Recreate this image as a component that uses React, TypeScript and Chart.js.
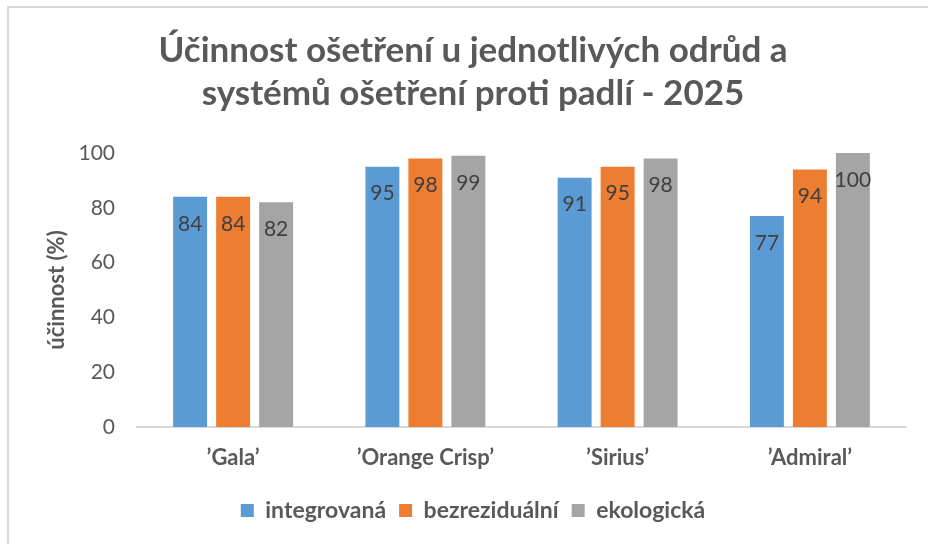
import React, { useEffect, useRef } from 'react';
import { Chart, registerables } from 'chart.js';

Chart.register(...registerables);

const categories = ['’Gala’', '’Orange Crisp’', '’Sirius’', '’Admiral’'];
const seriesNames = ['integrovaná', 'bezreziduální', 'ekologická'];
const integrovana = [84, 95, 91, 77];
const bezrezidualni = [84, 98, 95, 94];
const ekologicka = [82, 99, 98, 100];
const seriesColors = ['#5B9BD5', '#ED7D31', '#A5A5A5'];
const yMin = 0;
const yMax = 100;
const yStep = 20;
const titleLines = ['Účinnost ošetření u jednotlivých odrůd a', 'systémů ošetření proti padlí - 2025'];
const yAxisTitle = 'účinnost (%)';

const FONT = 'Lato';
const TEXT = '#595959';

const valueLabels = {
  id: 'valueLabels',
  afterDatasetsDraw(chart: any) {
    const ctx = chart.ctx;
    ctx.save();
    ctx.font = `21px ${FONT}`;
    ctx.fillStyle = '#404040';
    ctx.textAlign = 'center';
    ctx.textBaseline = 'middle';
    chart.data.datasets.forEach((ds: any, i: number) => {
      const meta = chart.getDatasetMeta(i);
      meta.data.forEach((bar: any, j: number) => {
        ctx.fillText(String(ds.data[j]), bar.x, bar.y + 27);
      });
    });
    ctx.restore();
  },
};

export default function App() {
  const ref = useRef<HTMLCanvasElement>(null);

  useEffect(() => {
    document.body.style.margin = '0';
    const seriesData = [integrovana, bezrezidualni, ekologicka];
    const chart = new Chart(ref.current as HTMLCanvasElement, {
      type: 'bar',
      data: {
        labels: categories,
        datasets: seriesNames.map((name, i) => ({
          label: name,
          data: seriesData[i],
          backgroundColor: seriesColors[i],
          borderWidth: 0,
          categoryPercentage: 0.671,
          barPercentage: 0.79,
        })),
      },
      options: {
        animation: false,
        responsive: false,
        maintainAspectRatio: false,
        layout: { padding: { left: 40, right: 22, top: 0, bottom: 12 } },
        plugins: {
          title: {
            display: true,
            text: titleLines,
            color: TEXT,
            font: { family: FONT, size: 35, weight: 'bold', lineHeight: 43 / 35 },
            padding: { top: 29, bottom: 38 },
          },
          legend: {
            position: 'bottom',
            labels: {
              color: TEXT,
              font: { family: FONT, size: 23, weight: 'bold' },
              boxWidth: 13,
              boxHeight: 13,
              padding: 13,
            },
          },
          tooltip: { enabled: false },
        },
        scales: {
          x: {
            grid: { display: false, drawTicks: false },
            border: { display: true, color: '#d9d9d9', width: 2 },
            ticks: { color: TEXT, font: { family: FONT, size: 22, weight: 'bold', lineHeight: 1.2 }, padding: 17.3 },
            afterFit(scale: any) {
              scale.height = 59;
            },
          },
          y: {
            min: yMin,
            max: yMax,
            ticks: { stepSize: yStep, color: TEXT, font: { family: FONT, size: 21 }, padding: 22 },
            grid: { display: false, drawTicks: false },
            border: { display: false },
            title: {
              display: true,
              text: yAxisTitle,
              color: TEXT,
              font: { family: FONT, size: 22, weight: 'bold', lineHeight: 1.2 },
              padding: { top: 4, bottom: 0 },
            },
            afterFit(scale: any) {
              scale.width = 97;
            },
          },
        },
      },
      plugins: [valueLabels],
    } as any);
    return () => chart.destroy();
  }, []);

  return (
    <div style={{ position: 'relative', width: 928, height: 544, overflow: 'hidden', background: '#fff' }}>
      <div
        style={{
          position: 'absolute',
          left: 7,
          top: 6,
          width: 2000,
          height: 2000,
          border: '2px solid #d9d9d9',
          boxSizing: 'border-box',
        }}
      />
      <canvas ref={ref} width={928} height={544} style={{ position: 'absolute', left: 0, top: 0 }} />
    </div>
  );
}
